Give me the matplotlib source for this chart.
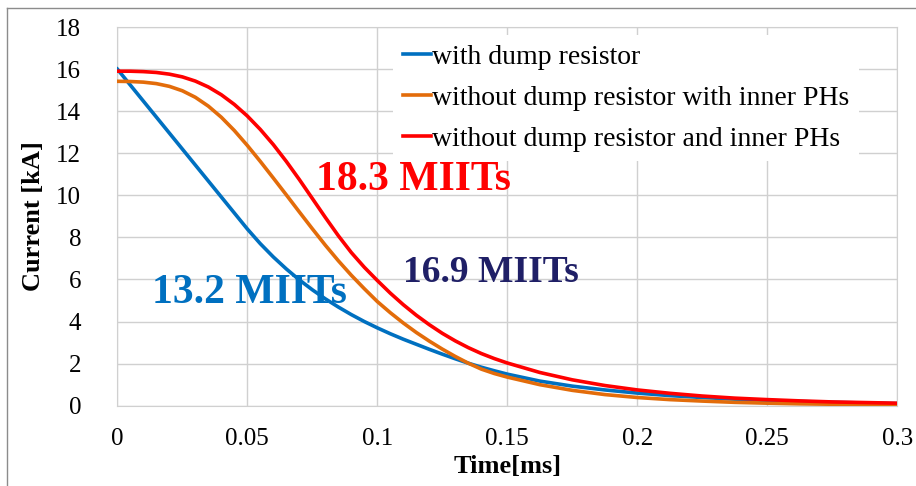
import matplotlib.pyplot as plt
from matplotlib.lines import Line2D

# time in ms
time_ms = [0, 0.005, 0.01, 0.015, 0.02, 0.025, 0.03, 0.035, 0.04, 0.045, 0.05,
           0.055, 0.06, 0.065, 0.07, 0.075, 0.08, 0.085, 0.09, 0.095, 0.1,
           0.105, 0.11, 0.115, 0.12, 0.125, 0.13, 0.135, 0.14, 0.145, 0.15,
           0.1625, 0.175, 0.1875, 0.2, 0.2125, 0.225, 0.2375, 0.25, 0.2625, 0.275, 0.2875, 0.3]

# current [kA] for each case
with_dump = [16.0, 15.24, 14.48, 13.72, 12.96, 12.2, 11.44, 10.68, 9.92, 9.16, 8.4,
             7.7, 7.07, 6.5, 5.98, 5.51, 5.08, 4.69, 4.33, 4.0, 3.7,
             3.42, 3.16, 2.92, 2.68, 2.45, 2.23, 2.02, 1.83, 1.66, 1.5,
             1.17, 0.93, 0.75, 0.6, 0.48, 0.39, 0.31, 0.25, 0.2, 0.16, 0.13, 0.1]
without_dump_inner = [15.42, 15.41, 15.38, 15.31, 15.18, 14.97, 14.66, 14.24, 13.71, 13.08, 12.37,
                      11.61, 10.82, 10.02, 9.21, 8.41, 7.63, 6.89, 6.2, 5.56, 4.95,
                      4.42, 3.93, 3.48, 3.07, 2.69, 2.34, 2.02, 1.74, 1.53, 1.36,
                      1.0, 0.73, 0.53, 0.39, 0.29, 0.22, 0.16, 0.12, 0.09, 0.07, 0.05, 0.04]
without_dump_no_inner = [15.9, 15.9, 15.88, 15.84, 15.76, 15.63, 15.43, 15.15, 14.78, 14.32, 13.77,
                         13.13, 12.41, 11.61, 10.75, 9.85, 8.95, 8.08, 7.28, 6.58, 5.95,
                         5.35, 4.8, 4.3, 3.85, 3.44, 3.08, 2.76, 2.48, 2.24, 2.03,
                         1.58, 1.23, 0.96, 0.75, 0.59, 0.46, 0.36, 0.29, 0.23, 0.18, 0.15, 0.12]

labels = ["with dump resistor",
          "without dump resistor with inner PHs",
          "without dump resistor and inner PHs"]
colors = ["#0070C0", "#E36C0A", "#FF0000"]

miits_text = ["13.2 MIITs", "16.9 MIITs", "18.3 MIITs"]
miits_colors = ["#0070C0", "#1F1F66", "#FF0000"]

plt.rcParams["font.family"] = ["Liberation Serif", "DejaVu Serif"]

fig = plt.figure(figsize=(9.16, 4.86), dpi=100)
ax = fig.add_axes([0.1281, 0.1652, 0.8515, 0.7792])

for y, lab, c in zip([with_dump, without_dump_inner, without_dump_no_inner], labels, colors):
    ax.plot(time_ms, y, color=c, lw=2.6, label=lab, zorder=3, solid_joinstyle="round")

ax.set_xlim(0, 0.3)
ax.set_ylim(0, 18)
ax.set_xticks([0, 0.05, 0.1, 0.15, 0.2, 0.25, 0.3])
ax.set_xticklabels(["0", "0.05", "0.1", "0.15", "0.2", "0.25", "0.3"])
ax.set_yticks(range(0, 19, 2))
ax.tick_params(length=0, labelsize=18)
ax.tick_params(axis="x", pad=16)
ax.tick_params(axis="y", pad=26)
ax.grid(True, color="#D0D0D0", lw=1)
ax.set_axisbelow(True)
for s in ax.spines.values():
    s.set_color("#D0D0D0")

ax.set_xlabel("Time[ms]", fontsize=19, fontweight="bold", labelpad=4)
ax.set_ylabel("Current [kA]", fontsize=19, fontweight="bold", labelpad=8)

# MIITs annotations
ax.text(0.01335, 4.88, miits_text[0], color=miits_colors[0], fontsize=30, fontweight="bold", va="baseline")
ax.text(0.1099, 5.9, miits_text[1], color=miits_colors[1], fontsize=27, fontweight="bold", va="baseline")
ax.text(0.0764, 10.25, miits_text[2], color=miits_colors[2], fontsize=30, fontweight="bold", va="baseline")

leg = ax.legend(loc="upper left", bbox_to_anchor=(0.3535, 0.979), borderaxespad=0,
                fontsize=20, handlelength=1.0, handletextpad=0.05, labelspacing=0.55,
                frameon=True, fancybox=False, framealpha=1, borderpad=0.35)
leg.get_frame().set_edgecolor("none")
leg.get_frame().set_facecolor("white")

# outer border (left and top visible)
fig.add_artist(Line2D([7 / 916, 7 / 916], [0, 1 - 8 / 486], color="#8C8C8C", lw=1))
fig.add_artist(Line2D([7 / 916, 1], [1 - 8 / 486, 1 - 8 / 486], color="#8C8C8C", lw=1))

fig.savefig("out.png", dpi=100)
